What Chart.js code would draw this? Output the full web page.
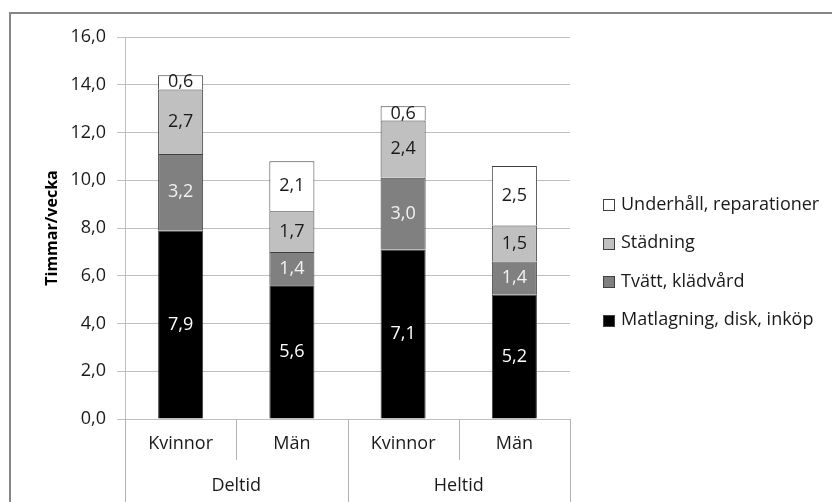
<!DOCTYPE html>
<html><head><meta charset="utf-8">
<script src="https://cdn.jsdelivr.net/npm/chart.js@4"></script>
<style>html,body{margin:0;padding:0;background:#fff}#wrap{width:832px;height:502px;position:relative}</style>
</head><body><div id="wrap"><canvas id="c" width="832" height="502"></canvas></div>
<script>
const categories = ['Kvinnor', 'Män', 'Kvinnor', 'Män'];
const groups = ['Deltid', 'Heltid'];
const seriesNames = ['Matlagning, disk, inköp', 'Tvätt, klädvård', 'Städning', 'Underhåll, reparationer'];
const matlagning = [7.9, 5.6, 7.1, 5.2];
const tvatt = [3.2, 1.4, 3.0, 1.4];
const stadning = [2.7, 1.7, 2.4, 1.5];
const underhall = [0.6, 2.1, 0.6, 2.5];
const yMin = 0, yMax = 16, yStep = 2;
const yTitle = 'Timmar/vecka';

const FONT = '"Open Sans", "Noto Sans", sans-serif';
const FS = 18;
const fills = ['#000000', '#808080', '#c0c0c0', '#ffffff'];
const labelColors = ['#ffffff', '#f2f2f2', '#1a1a1a', '#1a1a1a'];
const fmt = v => v.toFixed(1).replace('.', ',');

const seriesValues = [matlagning, tvatt, stadning, underhall];
const datasets = seriesValues.map((vals, i) => ({
  label: seriesNames[i],
  data: vals,
  backgroundColor: fills[i],
  borderColor: '#404040',
  borderWidth: 1,
  barPercentage: 0.405,
  categoryPercentage: 1.0
}));

const custom = {
  id: 'custom',
  beforeDraw(chart) {
    const ctx = chart.ctx;
    ctx.save();
    ctx.fillStyle = '#fff';
    ctx.fillRect(0, 0, chart.width, chart.height);
    ctx.strokeStyle = '#868686';
    ctx.lineWidth = 2;
    ctx.beginPath();
    ctx.moveTo(10, 600); ctx.lineTo(10, 13); ctx.lineTo(900, 13);
    ctx.stroke();
    ctx.restore();
  },
  afterDraw(chart) {
    const ctx = chart.ctx;
    const area = chart.chartArea;
    const xs = chart.scales.x;
    ctx.save();
    // data labels
    ctx.font = FS + 'px ' + FONT;
    ctx.textAlign = 'center';
    ctx.textBaseline = 'middle';
    chart.data.datasets.forEach((ds, i) => {
      const meta = chart.getDatasetMeta(i);
      meta.data.forEach((el, j) => {
        const cy = (el.y + el.base) / 2;
        ctx.fillStyle = labelColors[i];
        ctx.fillText(fmt(ds.data[j]), el.x, cy);
      });
    });
    // x axis dividers
    ctx.strokeStyle = '#b3b3b3';
    ctx.lineWidth = 1;
    const n = categories.length;
    const w = (area.right - area.left) / n;
    for (let i = 0; i <= n; i++) {
      const px = Math.round(area.left + i * w) + 0.5;
      const yEnd = (i % 2 === 0) ? chart.height : area.bottom + 41;
      ctx.beginPath();
      ctx.moveTo(px, area.bottom);
      ctx.lineTo(px, yEnd);
      ctx.stroke();
    }
    ctx.fillStyle = '#1a1a1a';
    categories.forEach((c, i) => {
      ctx.fillText(c, xs.getPixelForValue(i), area.bottom + 25);
    });
    groups.forEach((g, k) => {
      const cx = (xs.getPixelForValue(2 * k) + xs.getPixelForValue(2 * k + 1)) / 2;
      ctx.fillText(g, cx, area.bottom + 67);
    });
    // legend
    ctx.textAlign = 'left';
    for (let k = 0; k < 4; k++) {
      const i = 3 - k;
      const cy = 204.5 + k * 38.5;
      ctx.fillStyle = fills[i];
      ctx.fillRect(603.5, Math.round(cy - 5.5) + 0.5, 11, 11);
      ctx.strokeStyle = '#404040';
      ctx.strokeRect(603.5, Math.round(cy - 5.5) + 0.5, 11, 11);
      ctx.fillStyle = '#1a1a1a';
      ctx.fillText(seriesNames[i], 621, cy);
    }
    ctx.restore();
  }
};

new Chart(document.getElementById('c'), {
  type: 'bar',
  data: { labels: categories, datasets },
  options: {
    responsive: false,
    animation: false,
    devicePixelRatio: 1,
    layout: { padding: { left: 0, top: 37, right: 262, bottom: 0 } },
    plugins: { legend: { display: false }, tooltip: { enabled: false } },
    scales: {
      x: {
        stacked: true,
        grid: { display: false },
        border: { display: false },
        ticks: { display: false },
        afterFit: s => { s.height = 83; }
      },
      y: {
        stacked: true,
        min: yMin, max: yMax,
        ticks: {
          stepSize: yStep,
          font: { family: FONT, size: FS },
          color: '#1a1a1a',
          padding: 11,
          callback: v => fmt(v)
        },
        grid: { color: '#bfbfbf', tickLength: 8 },
        border: { color: '#bfbfbf' },
        title: {
          display: true, text: yTitle,
          font: { family: FONT, size: 16, weight: 'bold' },
          color: '#000',
          padding: { top: 43, bottom: 0 }
        },
        afterFit: s => { s.width = 125; }
      }
    }
  },
  plugins: [custom]
});
</script></body></html>
